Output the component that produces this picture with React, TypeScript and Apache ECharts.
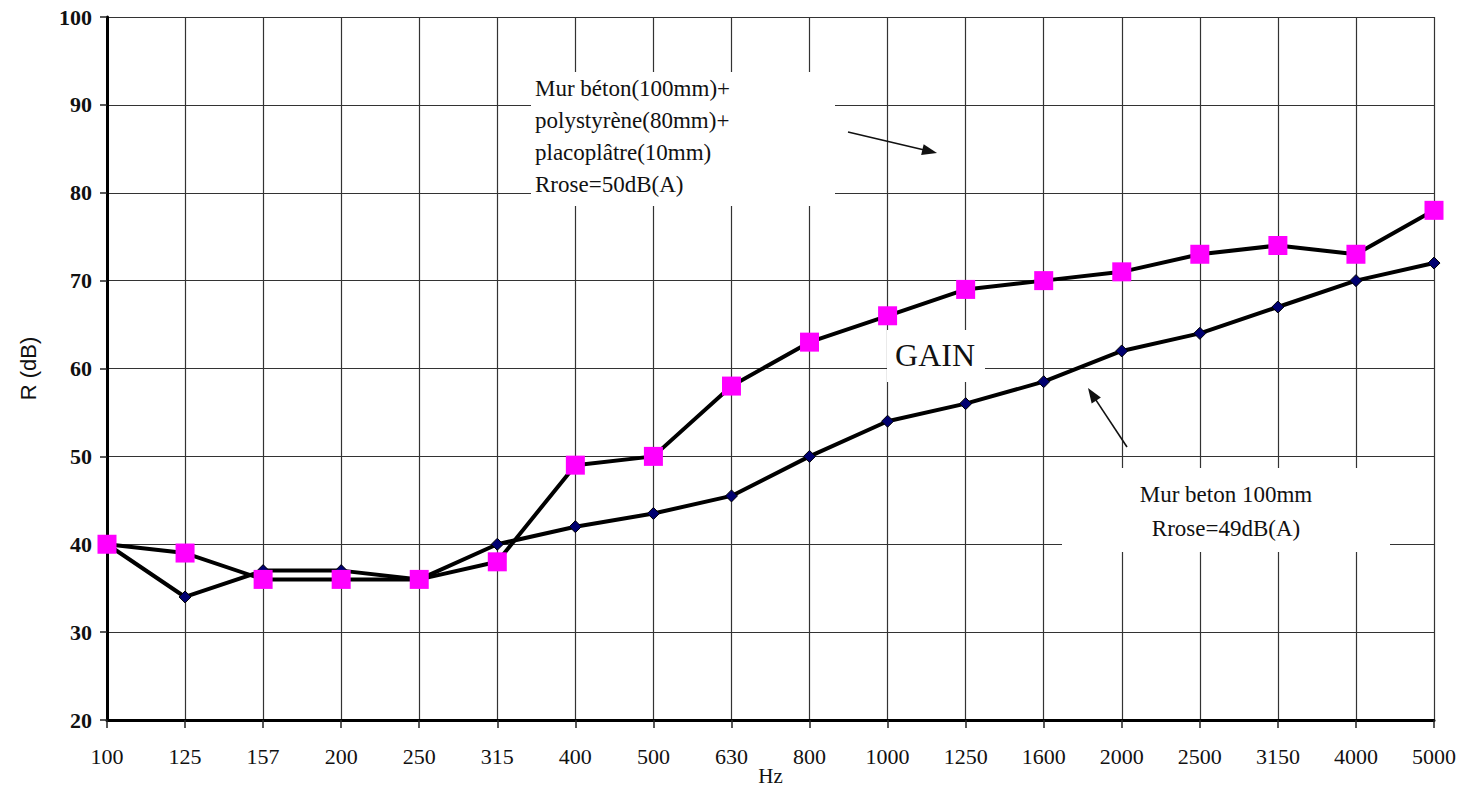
import React, { useEffect, useRef } from "react";
import * as echarts from "echarts";

const frequencies = ["100", "125", "157", "200", "250", "315", "400", "500", "630", "800", "1000", "1250", "1600", "2000", "2500", "3150", "4000", "5000"];
const murBeton = [40, 34, 37, 37, 36, 40, 42, 43.5, 45.5, 50, 54, 56, 58.5, 62, 64, 67, 70, 72];
const murIsole = [40, 39, 36, 36, 36, 38, 49, 50, 58, 63, 66, 69, 70, 71, 73, 74, 73, 78];
const yTicks = { min: 20, max: 100, interval: 10 };

const serif = "Liberation Serif";

function arrow(x1: number, y1: number, x2: number, y2: number) {
  const dx = x2 - x1, dy = y2 - y1;
  const len = Math.hypot(dx, dy);
  const ux = dx / len, uy = dy / len;
  const px = -uy, py = ux;
  const hl = 15, hw = 5.5;
  const bx = x2 - ux * hl, by = y2 - uy * hl;
  return [
    { type: "line", z: 10, shape: { x1, y1, x2: bx + ux * 2, y2: by + uy * 2 }, style: { stroke: "#111", lineWidth: 1.6 } },
    { type: "polygon", z: 10, shape: { points: [[x2, y2], [bx + px * hw, by + py * hw], [bx - px * hw, by - py * hw]] }, style: { fill: "#111" } },
  ];
}

function label(text: string, x: number, y: number, size: number, align: string) {
  return {
    type: "text", z: 6, x, y,
    style: { text, fontFamily: serif, fontSize: size, fill: "#111", align, verticalAlign: "middle" },
  };
}

export default function App() {
  const ref = useRef<HTMLDivElement>(null);
  useEffect(() => {
    const chart = echarts.init(ref.current!, null, { renderer: "svg" });
    chart.setOption({
      animation: false,
      backgroundColor: "#fff",
      grid: { left: 107, right: 34, top: 17, bottom: 70, containLabel: false, outerBoundsMode: "none" },
      xAxis: {
        type: "category",
        data: frequencies,
        boundaryGap: false,
        name: "Hz",
        nameLocation: "middle",
        nameGap: 45,
        nameMoveOverlap: false,
        nameTextStyle: { fontFamily: serif, fontSize: 21, color: "#111", verticalAlign: "top", lineHeight: 21 },
        axisLine: { lineStyle: { color: "#000", width: 3 } },
        axisTick: { show: true, length: 8, lineStyle: { color: "#222", width: 1.5 } },
        axisLabel: { fontFamily: serif, fontSize: 22, color: "#111", margin: 25 },
        splitLine: { show: true, lineStyle: { color: "#333", width: 1.2 } },
      },
      yAxis: {
        type: "value",
        ...yTicks,
        name: "R (dB)",
        nameLocation: "middle",
        nameGap: 68,
        nameRotate: 90,
        nameMoveOverlap: false,
        nameTextStyle: { fontFamily: "Liberation Sans", fontSize: 22, color: "#111" },
        axisLine: { show: true, lineStyle: { color: "#000", width: 3 } },
        axisTick: { show: true, length: 7, lineStyle: { color: "#222", width: 1.5 } },
        axisLabel: { fontFamily: serif, fontSize: 22, fontWeight: "bold", color: "#111", margin: 15 },
        splitLine: { show: true, lineStyle: { color: "#333", width: 1.2 } },
      },
      graphic: [
        { type: "rect", z: 5, shape: { x: 531, y: 72, width: 304, height: 134 }, style: { fill: "#fff" } },
        { type: "rect", z: 5, shape: { x: 887, y: 330, width: 98, height: 52 }, style: { fill: "#fff" } },
        { type: "rect", z: 5, shape: { x: 1062, y: 468, width: 328, height: 84 }, style: { fill: "#fff" } },
        label("Mur béton(100mm)+", 535, 88, 23, "left"),
        label("polystyrène(80mm)+", 535, 120, 23, "left"),
        label("placoplâtre(10mm)", 535, 152, 23, "left"),
        label("Rrose=50dB(A)", 535, 184, 23, "left"),
        label("GAIN", 935, 355, 32, "center"),
        label("Mur beton 100mm", 1226, 494, 23, "center"),
        label("Rrose=49dB(A)", 1226, 528, 23, "center"),
        ...arrow(848, 132, 937, 153),
        ...arrow(1127, 447, 1088, 388),
      ],
      series: [
        {
          name: "Mur beton 100mm",
          type: "line",
          data: murBeton,
          symbol: "diamond",
          symbolSize: 12,
          itemStyle: { color: "#000070", borderColor: "#000", borderWidth: 1 },
          lineStyle: { color: "#000", width: 4 },
          z: 2,
        },
        {
          name: "Mur béton + polystyrène + placoplâtre",
          type: "line",
          data: murIsole,
          symbol: "rect",
          symbolSize: 19,
          itemStyle: { color: "#ff00ff", borderWidth: 0 },
          lineStyle: { color: "#000", width: 4 },
          z: 3,
        },
      ],
    });
    return () => chart.dispose();
  }, []);
  return <div ref={ref} style={{ position: "fixed", left: 0, top: 0, width: 1468, height: 790 }} />;
}
